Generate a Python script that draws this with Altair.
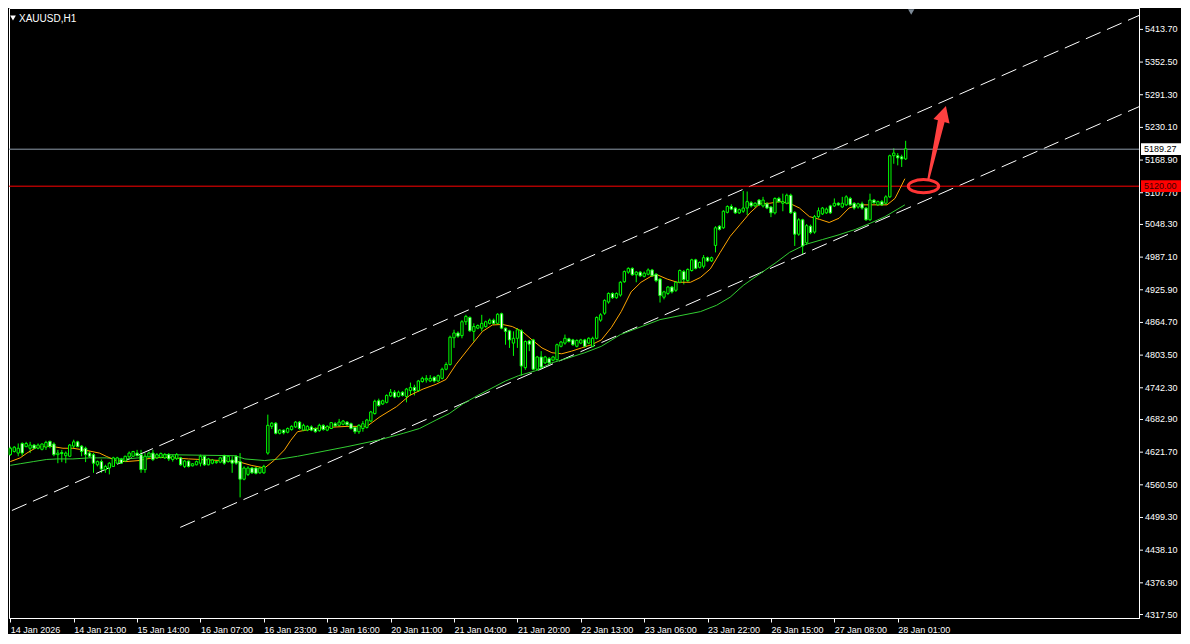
import altair as alt
import pandas as pd

# ---------------- data ----------------
opens = [
4617,4623,4620,4638,4632,4629,4635,4629,4627,4631,
4642,4637,4617,4621,4615,4614,4633,4641,4633,4629,
4620,4617,4598,4604,4589,4592,4595,4601,4608,4605,
4613,4614,4620,4617,4589,4613,4620,4611,4612,4611,
4617,4608,4610,4611,4595,4605,4596,4598,4601,4614,
4598,4601,4602,4603,4615,4604,4607,4614,4604,4571,
4580,4592,4592,4583,4583,4620,4670,4676,4657,4663,
4659,4664,4669,4678,4663,4663,4669,4666,4662,4672,
4663,4666,4675,4672,4674,4678,4675,4668,4660,4666,
4668,4680,4694,4718,4712,4715,4727,4734,4726,4734,
4726,4737,4743,4737,4754,4757,4755,4762,4755,4760,
4777,4786,4836,4845,4840,4866,4874,4848,4854,4854,
4857,4863,4869,4863,4881,4854,4849,4826,4835,4849,
4780,4830,4832,4777,4800,4789,4797,4794,4795,4820,
4826,4834,4832,4820,4826,4832,4826,4820,4835,4869,
4882,4903,4919,4911,4916,4941,4959,4966,4954,4959,
4951,4955,4963,4955,4946,4912,4919,4931,4925,4940,
4960,4943,4962,4982,4968,4970,4986,4980,5009,5045,
5042,5071,5082,5079,5070,5073,5079,5089,5083,5094,
5083,5087,5081,5070,5097,5088,5088,5103,5071,5030,
5057,5014,5045,5034,5063,5068,5070,5083,5083,5088,
5081,5085,5097,5088,5081,5087,5079,5057,5094,5085,
5091,5088,5100,5177,5177,5175,5171]

highs = [
4632,4633,4638,4640,4641,4641,4637,4638,4638,4643,
4643,4640,4626,4626,4623,4637,4645,4643,4635,4632,
4623,4620,4606,4608,4598,4603,4613,4613,4611,4615,
4623,4624,4626,4626,4620,4623,4626,4620,4621,4620,
4620,4617,4620,4613,4607,4606,4601,4606,4617,4616,
4611,4609,4606,4613,4617,4616,4614,4616,4620,4595,
4595,4594,4594,4594,4598,4692,4678,4678,4665,4664,
4668,4672,4680,4680,4675,4672,4672,4668,4675,4674,
4672,4678,4678,4684,4682,4680,4677,4670,4674,4680,
4684,4699,4720,4722,4720,4730,4740,4738,4737,4736,
4742,4752,4748,4757,4763,4766,4766,4764,4767,4780,
4790,4840,4851,4848,4869,4879,4876,4863,4861,4879,
4868,4872,4872,4882,4883,4855,4851,4848,4854,4852,
4831,4832,4834,4802,4811,4802,4800,4802,4825,4830,
4842,4836,4834,4833,4834,4834,4837,4838,4876,4882,
4908,4921,4921,4921,4942,4962,4968,4968,4961,4961,
4960,4966,4965,4957,4948,4924,4933,4933,4942,4964,
4963,4966,4984,4984,4979,4991,4988,4988,5045,5047,
5075,5084,5086,5081,5078,5111,5110,5092,5090,5096,
5100,5090,5083,5099,5100,5106,5106,5106,5073,5060,
5059,5049,5048,5066,5080,5081,5080,5085,5097,5090,
5100,5103,5100,5090,5089,5091,5081,5106,5096,5093,
5094,5103,5179,5191,5182,5179,5205]

lows = [
4615,4621,4614,4615,4631,4620,4627,4627,4625,4626,
4629,4614,4601,4603,4601,4613,4629,4631,4614,4603,
4611,4583,4595,4583,4583,4580,4594,4600,4600,4603,
4611,4613,4614,4583,4583,4611,4605,4609,4610,4609,
4605,4604,4607,4596,4592,4593,4595,4597,4595,4596,
4597,4599,4600,4601,4598,4602,4583,4598,4537,4569,
4577,4581,4580,4581,4581,4617,4665,4655,4655,4655,
4657,4662,4667,4664,4661,4661,4661,4658,4660,4662,
4661,4665,4669,4670,4672,4671,4664,4656,4656,4660,
4666,4678,4692,4707,4710,4713,4725,4723,4724,4726,
4715,4728,4728,4735,4752,4752,4753,4752,4753,4758,
4775,4784,4817,4836,4835,4860,4847,4829,4852,4848,
4855,4861,4861,4861,4852,4823,4817,4802,4817,4765,
4776,4811,4775,4774,4777,4787,4787,4792,4793,4818,
4823,4827,4821,4818,4824,4818,4824,4818,4833,4866,
4879,4900,4909,4909,4913,4939,4956,4952,4940,4950,
4949,4953,4950,4940,4902,4908,4916,4919,4922,4938,
4936,4941,4960,4964,4966,4966,4978,4978,4996,5037,
5040,5069,5075,5068,5068,5070,5066,5080,5080,5083,
5080,5077,5062,5067,5089,5073,5086,5068,5008,5027,
4993,5010,5030,5031,5060,5066,5068,5068,5081,5083,
5079,5083,5083,5076,5078,5076,5055,5055,5087,5083,
5083,5086,5098,5162,5159,5156,5169]

closes = [
4629,4631,4629,4620,4638,4635,4629,4635,4637,4640,
4632,4617,4620,4619,4620,4635,4641,4632,4623,4617,
4614,4601,4604,4590,4595,4601,4611,4611,4601,4614,
4620,4623,4615,4589,4614,4620,4608,4617,4619,4617,
4609,4614,4617,4598,4605,4595,4600,4604,4614,4598,
4609,4607,4604,4611,4601,4614,4601,4601,4571,4592,
4592,4583,4582,4592,4595,4672,4676,4657,4663,4658,
4666,4670,4678,4666,4672,4670,4663,4660,4672,4664,
4670,4677,4671,4678,4680,4673,4666,4660,4672,4675,
4682,4697,4717,4709,4718,4728,4734,4725,4734,4728,
4740,4743,4737,4755,4760,4760,4760,4755,4765,4777,
4786,4837,4845,4839,4866,4876,4849,4857,4859,4863,
4866,4869,4863,4880,4854,4848,4832,4835,4851,4783,
4829,4824,4777,4800,4781,4800,4789,4800,4823,4828,
4835,4829,4823,4831,4832,4820,4835,4835,4874,4879,
4906,4919,4911,4919,4940,4960,4966,4954,4959,4952,
4957,4963,4952,4943,4915,4922,4931,4922,4940,4962,
4945,4964,4982,4966,4977,4986,4980,4986,5042,5039,
5073,5082,5077,5070,5076,5079,5091,5083,5088,5085,
5094,5079,5070,5097,5091,5091,5103,5070,5030,5057,
5008,5046,5033,5063,5074,5079,5077,5070,5088,5085,
5088,5100,5085,5079,5087,5079,5057,5094,5089,5091,
5085,5100,5177,5182,5173,5171,5190]

fast_ma_idx = [0, 2.5, 4.2, 6.7, 10, 13.3, 15.8, 19.2, 22.5, 24.2, 26.7, 29.2, 32.5, 35.8,
               39.2, 45, 53.3, 57.5, 60.8, 64.2, 66.7, 69.2, 70.8, 72.5, 76.7, 80, 85, 90,
               93.3, 97.5, 100.8, 104.2, 107.5, 110, 112.5, 115.8, 119.2, 121.7, 124.2,
               126.7, 129.2, 131.7, 134.2, 136.7, 139.2, 141.7, 144.2, 146.7, 149.2, 151.7,
               154.2, 156.7, 159.2, 161.7, 163.3, 165.8, 168.3, 171.7, 174.2, 176.7, 179.2,
               181.7, 184.2, 186.7, 189.2, 191.7, 194.2, 196.7, 199.2, 201.7, 204.2, 206.7,
               209.2, 211.7, 214.2, 216.7, 219.2, 221.3, 223.3, 224.6, 225.8]
fast_ma_val = [4604, 4611, 4620, 4631, 4633, 4629, 4629, 4625, 4620, 4614, 4606, 4604, 4606, 4611,
               4612, 4609, 4606, 4604, 4597, 4592, 4607, 4626, 4644, 4660, 4666, 4668, 4670, 4670,
               4688, 4707, 4728, 4740, 4749, 4758, 4786, 4817, 4848, 4860, 4861,
               4857, 4848, 4832, 4817, 4808, 4806, 4811, 4817, 4823, 4832, 4855,
               4885, 4922, 4940, 4951, 4954, 4946, 4940, 4940, 4949, 4965, 4996,
               5026, 5048, 5070, 5087, 5088, 5091, 5088, 5079, 5063, 5058, 5052,
               5060, 5079, 5085, 5085, 5085, 5085, 5097, 5116, 5134]

slow_ma_idx = [0, 2.5, 5.8, 9.2, 11.7, 15.8, 20, 24.2, 26.7, 29.2, 32.5, 35.8, 39.2, 56.7,
               59.2, 64.2, 68.3, 72.5, 76.7, 85, 93.3, 99.2, 103.3, 107.5, 110.8, 114.2, 118,
               125, 128.3, 132.5, 136.7, 140.8, 145, 149.2, 154, 164, 174.2, 178.3, 181.7,
               185, 186.7, 193.3, 196.7, 200.8, 205, 209.2, 213.3, 217.5, 220.8, 225.8]
slow_ma_val = [4597, 4600, 4604, 4608, 4609, 4609, 4611, 4611, 4609, 4609, 4611, 4614, 4617, 4615,
               4609, 4606, 4609, 4614, 4620, 4632, 4645, 4657, 4666, 4682, 4694, 4712, 4728,
               4755, 4765, 4774, 4789, 4798, 4808, 4820, 4842, 4870, 4885, 4897, 4912,
               4934, 4943, 4977, 4996, 5011, 5020, 5029, 5039, 5052, 5063, 5085]

time_tick_idx = [0, 16, 32, 48, 64, 80, 96, 112, 128, 144, 160, 176, 192, 208, 224]
time_tick_labels = ["14 Jan 2026", "14 Jan 21:00", "15 Jan 14:00", "16 Jan 07:00", "16 Jan 23:00",
                    "19 Jan 16:00", "20 Jan 11:00", "21 Jan 04:00", "21 Jan 20:00", "22 Jan 13:00",
                    "23 Jan 06:00", "23 Jan 22:00", "26 Jan 15:00", "27 Jan 08:00", "28 Jan 01:00"]
price_ticks = [5413.70, 5352.50, 5291.30, 5230.10, 5168.90, 5107.70, 5048.30, 4987.10, 4925.90,
               4864.70, 4803.50, 4742.30, 4682.90, 4621.70, 4560.50, 4499.30, 4438.10, 4376.90,
               4317.50]

channel_names = ["upper", "upper", "lower", "lower"]
channel_idx = [0.4, 284.9, 42.9, 284.9]
channel_val = [4512.4, 5439.8, 4480.8, 5268.9]

level_vals = [5120.00, 5189.27]
level_colors = ["#ff0000", "#8e9caa"]
tag_labels = ["5120.00", "5189.27"]
tag_bg = ["#ff0000", "#ffffff"]
tag_fg = ["#3a0000", "#000000"]

ellipse_idx = [230.5]
ellipse_val = [5120.0]
shaft_idx = [231.7, 235.0]
shaft_val = [5132.0, 5242.0]
shaft_w = [2, 7]
head_idx = [235.6]
head_val = [5256.0]
shift_marker_idx = [227.4]
symbol_title = ["XAUUSD,H1"]

# ---------------- layout ----------------
W, H = 1130, 610
FONT = "Liberation Sans"
xs = alt.Scale(domain=[-0.33, 284.9], nice=False, zero=False)
ys = alt.Scale(domain=[4311.0, 5453.8], nice=False, zero=False)
LIME = "#00ff00"

candles = pd.DataFrame({"i": range(len(opens)), "o": opens, "h": highs, "l": lows, "c": closes})
candles["top"] = candles[["o", "c"]].max(axis=1)
candles["bot"] = candles[["o", "c"]].min(axis=1)
candles["fill"] = ["#ffffff" if c < o else "#000000" for o, c in zip(opens, closes)]

label_expr = "[" + ",".join("'" + s + "'" for s in time_tick_labels) + "][round(datum.value/16)]"
x_axis = alt.Axis(values=time_tick_idx, labelExpr=label_expr, labelAlign="left", labelPadding=3,
                  tickSize=4, labelFlush=False, labelOverlap=False, grid=False, title=None,
                  labelBaseline="top", labelColor="white", tickColor="white", domainColor="white",
                  labelFont=FONT, labelFontSize=9)
y_axis = alt.Axis(orient="right", values=price_ticks, labels=False, ticks=False, grid=False,
                  title=None, domainColor="white")

# first layer carries the axes; the others leave axis unspecified so they merge into it
wicks = alt.Chart(candles).mark_rule(color=LIME, strokeWidth=1).encode(
    x=alt.X("i:Q", scale=xs, axis=x_axis), y=alt.Y("l:Q", scale=ys, axis=y_axis), y2="h:Q")

channel_df = pd.DataFrame({"name": channel_names, "i": channel_idx, "p": channel_val})
channel = alt.Chart(channel_df).mark_line(color="white", strokeWidth=1, strokeDash=[16, 7], clip=True).encode(
    x=alt.X("i:Q", scale=xs), y=alt.Y("p:Q", scale=ys), detail="name:N")

levels_df = pd.DataFrame({"p": level_vals, "col": level_colors})
levels = alt.Chart(levels_df).mark_rule(strokeWidth=1).encode(
    y=alt.Y("p:Q", scale=ys), color=alt.Color("col:N", scale=None))

slow_df = pd.DataFrame({"i": slow_ma_idx, "p": slow_ma_val})
slow = alt.Chart(slow_df).mark_line(color="#32cd32", strokeWidth=1, clip=True).encode(
    x=alt.X("i:Q", scale=xs), y=alt.Y("p:Q", scale=ys))

fast_df = pd.DataFrame({"i": fast_ma_idx, "p": fast_ma_val})
fast = alt.Chart(fast_df).mark_line(color="#ffa500", strokeWidth=1, clip=True).encode(
    x=alt.X("i:Q", scale=xs), y=alt.Y("p:Q", scale=ys))

bodies = alt.Chart(candles).transform_calculate(
    x1="datum.i - 0.3", x2="datum.i + 0.3").mark_rect(stroke=LIME, strokeWidth=1).encode(
    x=alt.X("x1:Q", scale=xs), x2="x2:Q",
    y=alt.Y("top:Q", scale=ys), y2="bot:Q",
    fill=alt.Fill("fill:N", scale=None))

ellipse_path = "M-1,0A1,0.43,0,1,0,1,0A1,0.43,0,1,0,-1,0Z"
ellipse = alt.Chart(pd.DataFrame({"i": ellipse_idx, "p": ellipse_val})).mark_point(
    shape=ellipse_path, size=930, filled=False, color="#ff3535", strokeWidth=3, opacity=1).encode(
    x=alt.X("i:Q", scale=xs), y=alt.Y("p:Q", scale=ys))

shaft = alt.Chart(pd.DataFrame({"i": shaft_idx, "p": shaft_val, "w": shaft_w})).mark_trail(
    color="#ff4040").encode(
    x=alt.X("i:Q", scale=xs), y=alt.Y("p:Q", scale=ys),
    size=alt.Size("w:Q", scale=None, legend=None), order="i:Q")

head_path = "M0,-1L1.05,1L-1.05,1Z"
head = alt.Chart(pd.DataFrame({"i": head_idx, "p": head_val})).mark_point(
    shape=head_path, size=256, filled=True, color="#ff4040", opacity=1, angle=16).encode(
    x=alt.X("i:Q", scale=xs), y=alt.Y("p:Q", scale=ys))

# price scale: tick marks and labels on the right edge
price_df = pd.DataFrame({"p": price_ticks, "label": ["%.2f" % v for v in price_ticks]})
price_ticks_marks = alt.Chart(price_df).mark_rule(color="white", strokeWidth=1).encode(
    x=alt.value(W), x2=alt.value(W + 4), y=alt.Y("p:Q", scale=ys))
price_labels = alt.Chart(price_df).mark_text(
    align="left", baseline="middle", font=FONT, fontSize=9, color="white").encode(
    x=alt.value(W + 6), y=alt.Y("p:Q", scale=ys), text="label:N")

tags_df = pd.DataFrame({"p": level_vals, "label": tag_labels, "bg": tag_bg, "fg": tag_fg})
tag_boxes = alt.Chart(tags_df).transform_calculate(
    pt="datum.p + 11", pb="datum.p - 11").mark_rect().encode(
    x=alt.value(W + 2), x2=alt.value(W + 42),
    y=alt.Y("pt:Q", scale=ys), y2="pb:Q",
    fill=alt.Fill("bg:N", scale=None))
tag_text = alt.Chart(tags_df).mark_text(align="left", baseline="middle", font=FONT, fontSize=9).encode(
    x=alt.value(W + 5), y=alt.Y("p:Q", scale=ys), text="label:N",
    color=alt.Color("fg:N", scale=None))

title = alt.Chart(pd.DataFrame({"t": symbol_title})).mark_text(
    align="left", baseline="middle", font=FONT, fontSize=10, color="white").encode(
    x=alt.value(10), y=alt.value(11), text="t:N")
title_tri = alt.Chart(pd.DataFrame({"t": symbol_title})).mark_point(
    shape="triangle-down", filled=True, size=32, color="white", opacity=1).encode(
    x=alt.value(4), y=alt.value(10))

shift_marker = alt.Chart(pd.DataFrame({"i": shift_marker_idx})).mark_point(
    shape="triangle-down", filled=True, size=40, color="#7d8a97", opacity=1).encode(
    x=alt.X("i:Q", scale=xs), y=alt.value(4))

chart = alt.layer(
    wicks, channel, levels, slow, fast, bodies, ellipse, shaft, head,
    price_ticks_marks, price_labels, tag_boxes, tag_text, title, title_tri, shift_marker
).properties(
    width=W, height=H, padding=0, background="black"
).configure_view(
    fill="black", stroke="white", strokeWidth=1
).configure_axis(
    grid=False
)

chart.save("out.html", embed_options={"renderer": "svg", "actions": False})
